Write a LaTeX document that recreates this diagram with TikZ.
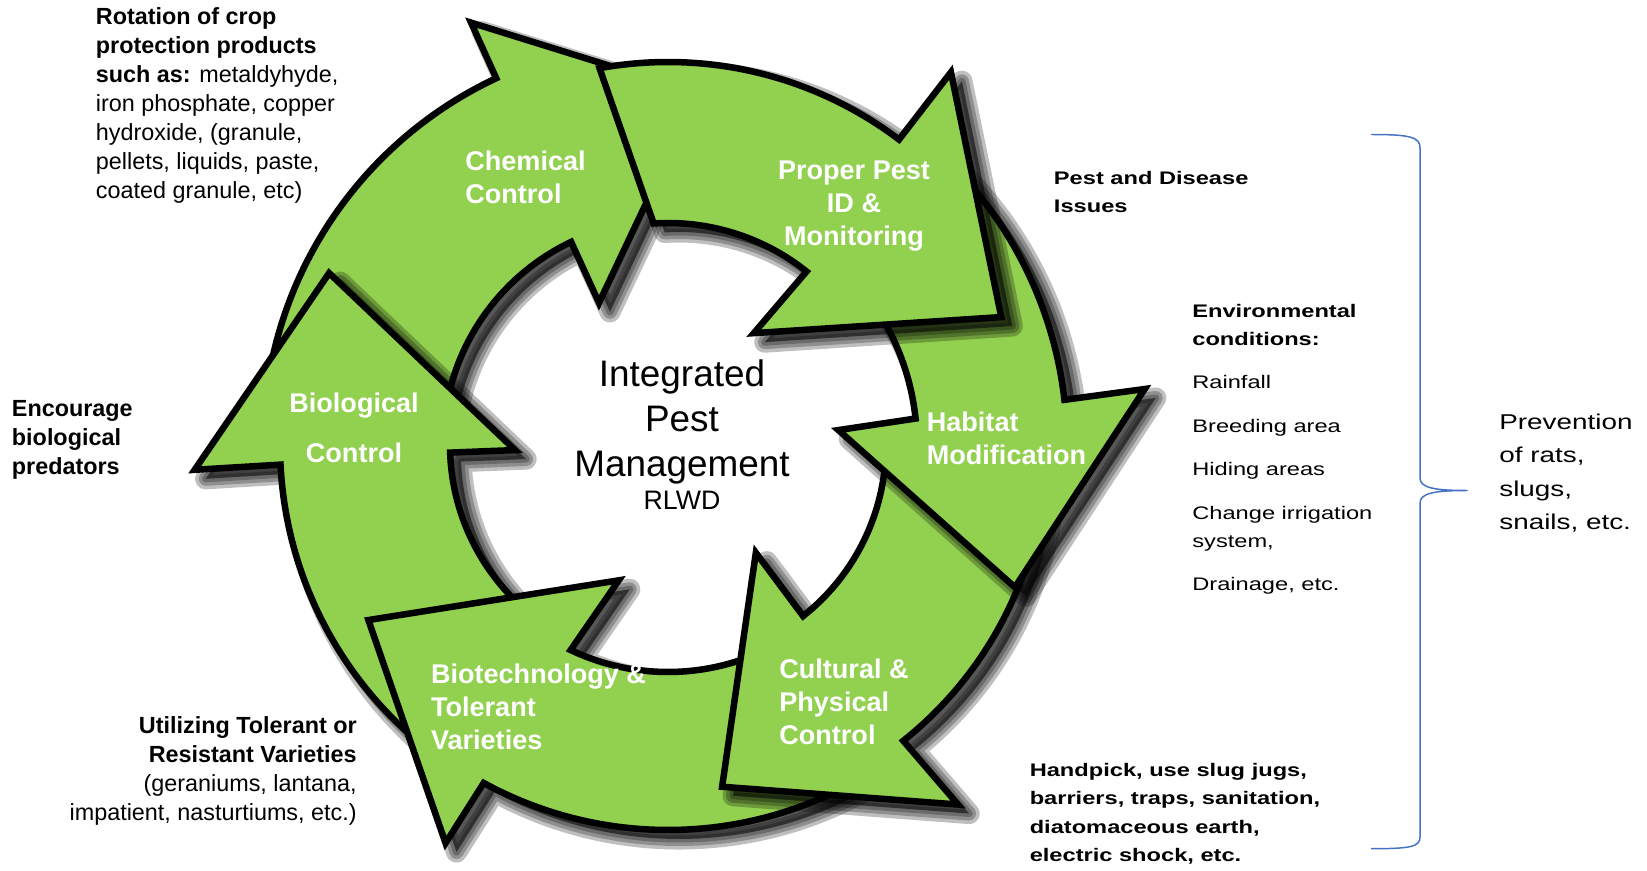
\documentclass[tikz,border=0pt]{standalone}
\usepackage{fontspec}
\setmainfont{Liberation Sans}
\newfontfamily\widesans[FakeStretch=1.3]{Liberation Sans}
\definecolor{leafgreen}{RGB}{146,208,80}
\definecolor{braceblue}{RGB}{68,114,196}

\tikzset{
  cyclearrow/.style={fill=leafgreen,draw=black,line width=3.7pt,line join=miter},
  shadowfill/.style={fill=black,opacity=0.55},
  shadowedge/.style={draw=black,opacity=0.25,line join=round},
  arrowlabel/.style={text=white,inner sep=0pt,font=\bfseries\fontsize{15.4}{18.8}\selectfont},
  note/.style={inner sep=0pt,font=\fontsize{13.3}{16.45}\selectfont},
  sidenote/.style={inner sep=0pt,align=left,anchor=north west,font=\widesans\fontsize{10.35}{16.2}\selectfont}
}

\begin{document}
\begin{tikzpicture}[x=0.02cm,y=0.02cm,line join=round]
  \useasboundingbox (0,0) rectangle (1647,870);

  % the six curved arrows, each head lies over the tail of the next one
  \begin{scope}[shift={(668,425)}]
    \foreach \tailo/\taili/\ro/\heado/\barbo/\tip/\barbi/\headi/\ri in {
        175/175/405/115.1/115:466/85.1:353/115.9:158/115.5/225,
        232/232/388/182.9/183:474/153.1:380/181.9:153/182/218,
        -60/-60/385/-118.6/-119.2:456/-149.7:347/-110:144/-115.4/227,
        -3/-3/378/-51.5/-51.1:462/-81:346/-50.8:139/-51.7/218,
        44/44/399/6.5/6.7:480/-22.3:375/5:171/6.1/249,
        100.3/93.7/383/52.9/52.8:468/21:357/52.5:141/51.4/222}
    {
      \def\outline{(\tailo:\ro) arc[start angle=\tailo,end angle=\heado,radius=\ro]
        -- (\barbo) -- (\tip) -- (\barbi) -- (\headi:\ri)
        arc[start angle=\headi,end angle=\taili,radius=\ri] -- cycle}
      \begin{scope}[shift={(11,-9)}]
        \fill[shadowfill] \outline;
        \foreach \w in {12,8,4}
          \draw[shadowedge,line width=\w pt] \outline;
      \end{scope}
      \draw[cyclearrow] \outline;
    }
  \end{scope}

  \node[arrowlabel,align=left,anchor=north west] (chem) at (465,719.7) {Chemical\\Control};
  \node[arrowlabel,align=center,anchor=north] (ppid) at (854,709.7) {Proper Pest\\ID \&\\Monitoring};
  \node[arrowlabel,align=left,anchor=north west] (habitat) at (926.5,458.7) {Habitat\\Modification};
  \node[arrowlabel,align=left,anchor=north west] (cultural) at (779,211.7) {Cultural \&\\Physical\\Control};
  \node[arrowlabel,align=left,anchor=north west] (biotech) at (430.7,206.7) {Biotechnology \&\\Tolerant\\Varieties};
  \node[arrowlabel,align=center,anchor=north,font=\bfseries\fontsize{15.4}{28.5}\selectfont] (bio) at (354,477.7) {Biological\\Control};

  \node[inner sep=0pt,align=center,anchor=north,font=\fontsize{21}{25.4}\selectfont] (ipm) at (682,510.2) {Integrated\\Pest\\Management};
  \node[inner sep=0pt,font=\fontsize{15.2}{18}\selectfont] (rlwd) at (682,370) {RLWD};

  \node[note,align=left,anchor=north west] (rotation) at (95.6,862.6)
    {\textbf{Rotation of crop}\\\textbf{protection products}\\\textbf{such as:} metaldyhyde,\\iron phosphate, copper\\hydroxide, (granule,\\pellets, liquids, paste,\\coated granule, etc)};
  \node[note,align=left,anchor=north west,font=\bfseries\fontsize{13.3}{16.45}\selectfont] (encourage) at (11.6,469.8)
    {Encourage\\biological\\predators};
  \node[note,align=right,anchor=north east] (tolerant) at (357,153.6)
    {\textbf{Utilizing Tolerant or}\\\textbf{Resistant Varieties}\\(geraniums, lantana,\\impatient, nasturtiums, etc.)};

  \node[sidenote,font=\widesans\bfseries\fontsize{10.35}{16.2}\selectfont] (issues) at (1053.6,699) {Pest and Disease\\Issues};
  \node[sidenote] (envcond) at (1192,566.5)
    {\textbf{Environmental}\\\textbf{conditions:}\\[8.5pt]Rainfall\\[8.5pt]Breeding area\\[8.5pt]Hiding areas\\[8.5pt]Change irrigation\\system,\\[8.5pt]Drainage, etc.};
  \node[sidenote,font=\widesans\bfseries\fontsize{10.35}{16.3}\selectfont] (handpick) at (1029.4,107.5)
    {Handpick, use slug jugs,\\barriers, traps, sanitation,\\diatomaceous earth,\\electric shock, etc.};

  % brace gathering the right hand notes
  \draw[braceblue,line width=0.85pt] (1371,735.5) .. controls (1410,735.5) and (1420,733) .. (1420,722)
    -- (1420,392) .. controls (1420,382) and (1435,379.5) .. (1467,379.5)
    .. controls (1435,379.5) and (1420,377) .. (1420,367)
    -- (1420,33) .. controls (1420,23) and (1410,21.3) .. (1371,21.3);
  \node[sidenote,font=\widesans\fontsize{12.2}{19.1}\selectfont] (prevent) at (1499,456.7)
    {Prevention\\of rats,\\slugs,\\snails, etc.};
\end{tikzpicture}
\end{document}
